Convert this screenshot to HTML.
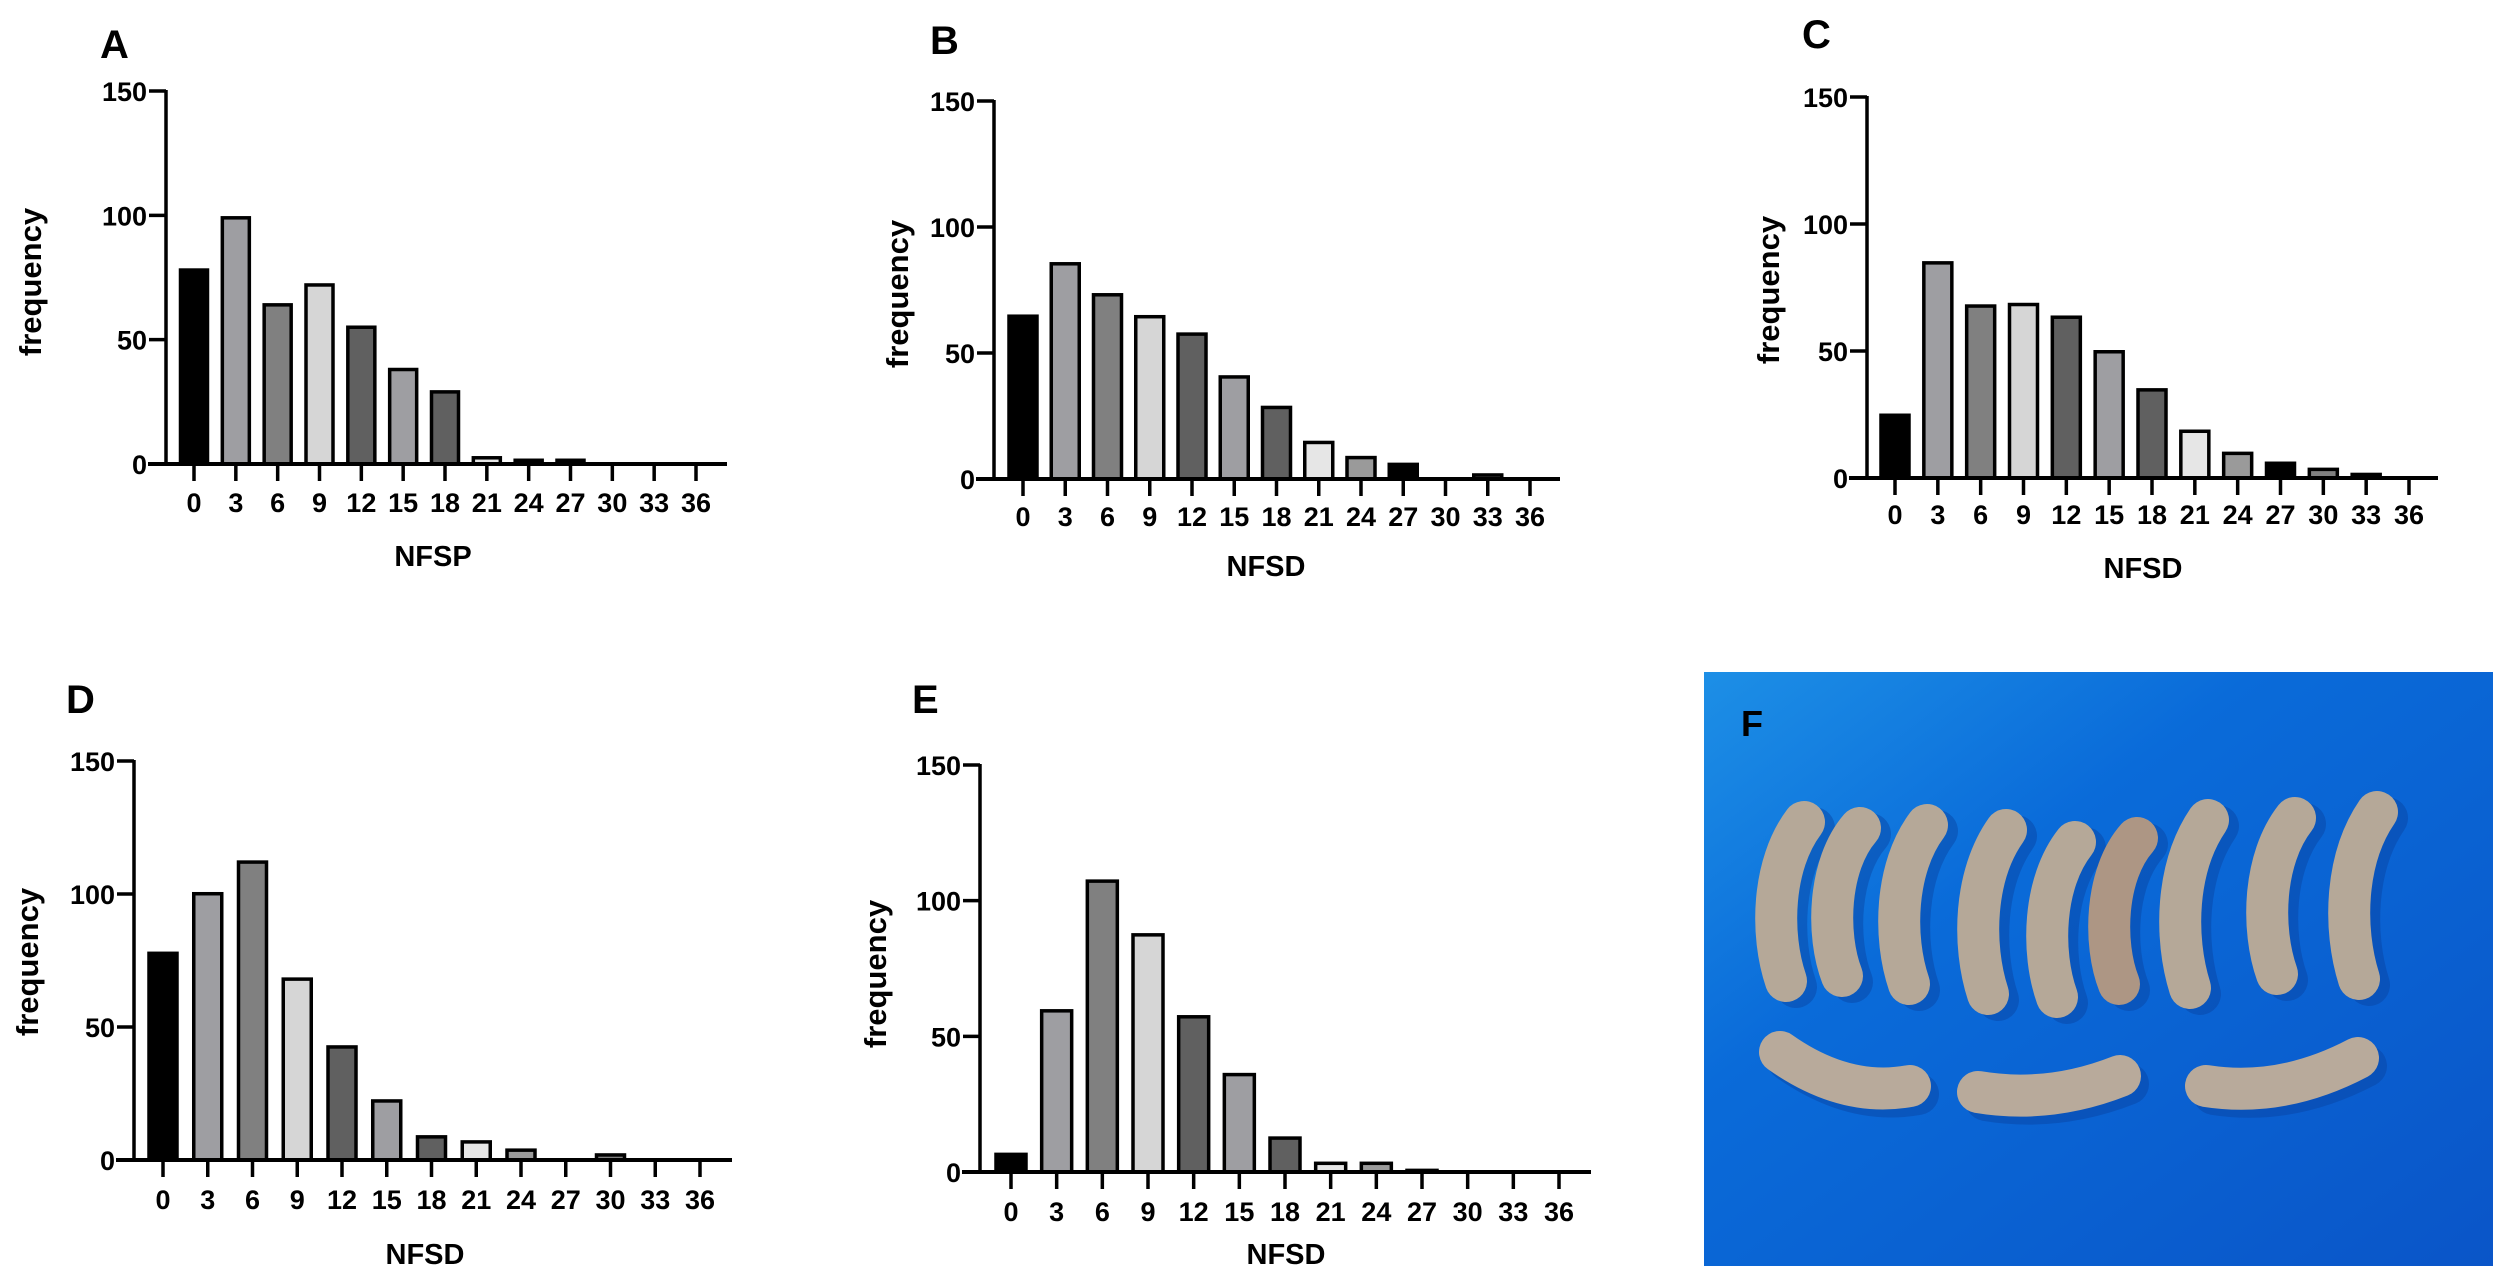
<!DOCTYPE html>
<html><head><meta charset="utf-8"><style>
html,body{margin:0;padding:0;background:#fff;}
svg{display:block;}
text{font-family:"Liberation Sans",sans-serif;font-weight:bold;fill:#000;}
</style></head><body>
<svg id="fig" width="2500" height="1274" viewBox="0 0 2500 1274" xmlns="http://www.w3.org/2000/svg">
<defs>
<linearGradient id="blueg" x1="0" y1="0" x2="1" y2="1">
<stop offset="0" stop-color="#1d8fe6"/><stop offset="0.35" stop-color="#0a6bd9"/><stop offset="1" stop-color="#0a55c8"/>
</linearGradient>
</defs>
</svg>
<script>
const categories = [0,3,6,9,12,15,18,21,24,27,30,33,36];
const yTicks = [0,50,100,150];
const seriesA = [78,99,64,72,55,38,29,2.5,1.5,1.5,0,0,0];
const seriesB = [64.6,85.4,73.1,64.4,57.5,40.5,28.4,14.5,8.5,5.8,0,1.6,0];
const seriesC = [24.7,84.7,67.7,68.3,63.3,49.7,34.7,18.4,9.7,5.8,3.4,1.4,0];
const seriesD = [77.7,100.1,112,68,42.5,22.2,8.7,6.8,3.7,0,1.9,0,0];
const seriesE = [6.5,59.4,107.2,87.4,57.2,35.9,12.5,3.2,3.2,0.6,0,0,0];
const xTitles = ["NFSP","NFSD","NFSD","NFSD","NFSD"];
const panelLetters = ["A","B","C","D","E"];

const fills = ["#000000","#9e9ea2","#808080","#d6d6d6","#606060","#9e9ea2","#606060","#e6e6e6","#9a9a9a","#000000","#808080","#606060","#9e9ea2"];
const NS = "http://www.w3.org/2000/svg";
const svg = document.getElementById('fig');
function mk(tag, attrs, parent){const e=document.createElementNS(NS,tag);for(const k in attrs)e.setAttribute(k,attrs[k]);(parent||svg).appendChild(e);return e;}

const layouts = [
 {ax:166,y150:91,y0:464,xEnd:727,t0:194,t36:696,bw:27,tickBase:512,titleBase:566,titleX:433,freqX:31,freqY:282,lx:100,lBase:56},
 {ax:994,y150:101,y0:479,xEnd:1560,t0:1023,t36:1530,bw:28,tickBase:526,titleBase:576,titleX:1266,freqX:898,freqY:294,lx:930,lBase:52},
 {ax:1867,y150:97,y0:478,xEnd:2438,t0:1895,t36:2409,bw:28,tickBase:524,titleBase:578,titleX:2143,freqX:1769,freqY:290,lx:1802,lBase:46},
 {ax:134,y150:761,y0:1160,xEnd:732,t0:163,t36:700,bw:28,tickBase:1209,titleBase:1264,titleX:425,freqX:28,freqY:962,lx:66,lBase:711},
 {ax:980,y150:765,y0:1172,xEnd:1591,t0:1011,t36:1559,bw:30,tickBase:1221,titleBase:1264,titleX:1286,freqX:876,freqY:974,lx:912,lBase:711}
];
const allSeries = [seriesA,seriesB,seriesC,seriesD,seriesE];

allSeries.forEach((vals,pi)=>{
  const L = layouts[pi];
  const g = mk('g',{});
  
  
  const yS = v => L.y0 - (v/150)*(L.y0-L.y150);
  const xS = c => L.t0 + (c-categories[0])/(categories[categories.length-1]-categories[0])*(L.t36-L.t0);
  const lt = mk('text',{x:L.lx,y:L.lBase+2,'font-size':40},g); lt.textContent=panelLetters[pi];
  
  
  vals.forEach((v,i)=>{
    const x = xS(categories[i]); const top = yS(v); const h = L.y0-top;
    if(h<=0) return;
    const r = mk('rect',{x:x-L.bw/2,y:top,width:L.bw,height:h,fill:fills[i],stroke:'#000','stroke-width':3.5},g);
    
    
  });
  const ya = mk('line',{x1:L.ax,y1:L.y150-1,x2:L.ax,y2:L.y0+1.5,stroke:'#000','stroke-width':3.5},g);
  
  
  yTicks.forEach(t=>{
    const y=yS(t);
    mk('line',{x1:L.ax-17,y1:y,x2:L.ax,y2:y,stroke:'#000','stroke-width':3.5},g);
    const tx = mk('text',{x:L.ax-19,y:y+10,'font-size':27,'text-anchor':'end'},g); tx.textContent=t;
    
    
  });
  const xa = mk('line',{x1:L.ax-18,y1:L.y0,x2:L.xEnd,y2:L.y0,stroke:'#000','stroke-width':4},g);
  
  
  categories.forEach(c=>{
    const x=xS(c);
    mk('line',{x1:x,y1:L.y0,x2:x,y2:L.y0+17,stroke:'#000','stroke-width':3.5},g);
    const tx = mk('text',{x:x,y:L.tickBase,'font-size':27,'text-anchor':'middle'},g); tx.textContent=c;
    
    
  });
  const xt = mk('text',{x:L.titleX,y:L.titleBase,'font-size':29,'text-anchor':'middle'},g); xt.textContent=xTitles[pi];
  
  
  const ytl = mk('text',{x:0,y:0,'font-size':31,'text-anchor':'middle',transform:`translate(${L.freqX+10},${L.freqY}) rotate(-90)`},g); ytl.textContent='frequency';
  
  
});

const pg = mk('g',{});


mk('rect',{x:1704,y:672,width:789,height:594,fill:'url(#blueg)'},pg);
const podsV = [[1782,812,997],[1838,818,992],[1905,815,1000],[1984,820,1010],[2053,832,1013],[2115,828,1000],[2186,810,1004],[2273,808,990],[2355,802,995]];
podsV.forEach((p,i)=>{
  const [cx,t,b]=p; const m=(t+b)/2;
  const d=`M${cx+22},${t+10} C${cx-10},${m-40} ${cx-12},${m+30} ${cx+4},${b-16}`;
  mk('path',{d:d,stroke:'#0842a0','stroke-width':42,'stroke-linecap':'round',fill:'none',opacity:0.45,transform:'translate(10,6)'},pg);
  const pod = mk('path',{d:d,stroke:i===5?'#ad9684':'#b5a898','stroke-width':42,'stroke-linecap':'round',fill:'none'},pg);
  
  
});
const podsH = [[1770,1052,1920,1086],[1968,1092,2130,1076],[2196,1086,2368,1058]];
podsH.forEach(p=>{
  const [x1,y1,x2,y2]=p; const mx=(x1+x2)/2;
  const d=`M${x1+10},${y1} Q${mx},${Math.max(y1,y2)+12} ${x2-10},${y2}`;
  mk('path',{d:d,stroke:'#0842a0','stroke-width':42,'stroke-linecap':'round',fill:'none',opacity:0.45,transform:'translate(8,8)'},pg);
  const pod = mk('path',{d:d,stroke:'#b8aa9b','stroke-width':42,'stroke-linecap':'round',fill:'none'},pg);
  
  
});
const ft = mk('text',{x:1741,y:736,'font-size':36},pg); ft.textContent='F';


</script>
</body></html>
